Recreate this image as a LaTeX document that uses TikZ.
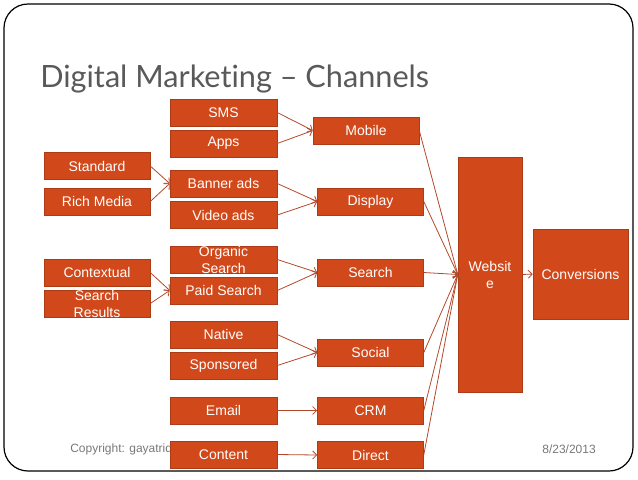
\documentclass[tikz,border=0pt]{standalone}
\usepackage{fontspec}
\setmainfont{Liberation Sans}
\newfontfamily\titlefont[Ligatures={NoCommon,NoDiscretionary}]{Lato}
\usetikzlibrary{arrows.meta}

\definecolor{chanfill}{RGB}{209,73,26}
\definecolor{chanline}{RGB}{172,60,22}
\definecolor{linkcol}{RGB}{180,72,42}
\definecolor{titlegray}{RGB}{89,89,89}
\definecolor{footgray}{RGB}{120,120,120}

\begin{document}
\begin{tikzpicture}[x=0.75pt,y=-0.75pt,
    chan/.style={draw=chanline, fill=chanfill, text=white, inner sep=0pt,
        minimum width=79.5pt, minimum height=20.25pt,
        font=\fontsize{10.5}{12.75}\selectfont, align=center},
    twoline/.style={text=white, align=center, font=\fontsize{10.5}{12.75}\selectfont},
    link/.style={draw=linkcol, line width=0.6pt, -{Straight Barb[length=3pt,width=6pt]}},
    foot/.style={text=footgray, inner sep=0pt, font=\fontsize{9}{10}\selectfont}]

    % Frame
    \useasboundingbox (0,0) rectangle (638,479);
    \draw[line width=0.9pt, rounded corners=18pt] (4,4) rectangle (633,471);

    % Title and footer
    \node[anchor=base west, inner sep=0pt, text=titlegray,
        font=\titlefont\fontsize{23}{26}\selectfont] (title) at (40,87) {Digital Marketing – Channels};
    \node[foot, anchor=base west] (copy) at (70,452) {Copyright: gayatridixit@gmail.com};
    \node[foot, anchor=base east] (date) at (596,453) {8/23/2013};

    % Left column
    \node[chan] (standard) at (97,166) {Standard};
    \node[chan] (rich) at (97,201.5) {Rich Media};
    \node[chan] (context) at (97,272.5) {Contextual};
    \node[chan, label={[twoline]center:Search\\Results}] (results) at (97,303.5) {};

    % Middle column
    \node[chan, minimum width=80.25pt] (sms) at (223.5,112.5) {SMS};
    \node[chan, minimum width=80.25pt] (apps) at (223.5,143.5) {Apps};
    \node[chan, minimum width=80.25pt] (banner) at (223.5,183.5) {Banner ads};
    \node[chan, minimum width=80.25pt] (video) at (223.5,215) {Video ads};
    \node[chan, minimum width=80.25pt, label={[twoline]center:Organic\\Search}] (organic) at (223.5,259.5) {};
    \node[chan, minimum width=80.25pt] (paid) at (223.5,290.5) {Paid Search};
    \node[chan, minimum width=80.25pt] (native) at (223.5,334.5) {Native};
    \node[chan, minimum width=80.25pt] (sponsored) at (223.5,365.5) {Sponsored};
    \node[chan, minimum width=80.25pt] (email) at (223.5,410.5) {Email};
    \node[chan, minimum width=80.25pt] (content) at (223.5,454.5) {Content};

    % Channels
    \node[chan] (mobile) at (366,130.5) {Mobile};
    \node[chan] (display) at (370.5,201.5) {Display};
    \node[chan] (search) at (370.5,272.5) {Search};
    \node[chan] (social) at (370.5,352.5) {Social};
    \node[chan] (crm) at (370.5,410.5) {CRM};
    \node[chan] (direct) at (370.5,455) {Direct};

    % Website and conversions
    \node[chan, minimum width=48pt, minimum height=176.25pt] (website) at (490,274.5) {Websit\\e};
    \node[chan, minimum width=71.25pt, minimum height=67.5pt] (conv) at (580.5,274) {Conversions};

    % Arrows
    \draw[link] (sms.east) -- (mobile.west);
    \draw[link] (apps.east) -- (mobile.west);
    \draw[link] (standard.east) -- (banner.west);
    \draw[link] (rich.east) -- (banner.west);
    \draw[link] (banner.east) -- (display.west);
    \draw[link] (video.east) -- (display.west);
    \draw[link] (context.east) -- (paid.west);
    \draw[link] (results.east) -- (paid.west);
    \draw[link] (organic.east) -- (search.west);
    \draw[link] (paid.east) -- (search.west);
    \draw[link] (native.east) -- (social.west);
    \draw[link] (sponsored.east) -- (social.west);
    \draw[link] (email.east) -- (crm.west);
    \draw[link] (content.east) -- (direct.west);
    \foreach \c in {mobile,display,search,social,crm,direct}
        \draw[link] (\c.east) -- (website.west);
    \draw[link] (website.east) -- (conv.west);
\end{tikzpicture}
\end{document}
